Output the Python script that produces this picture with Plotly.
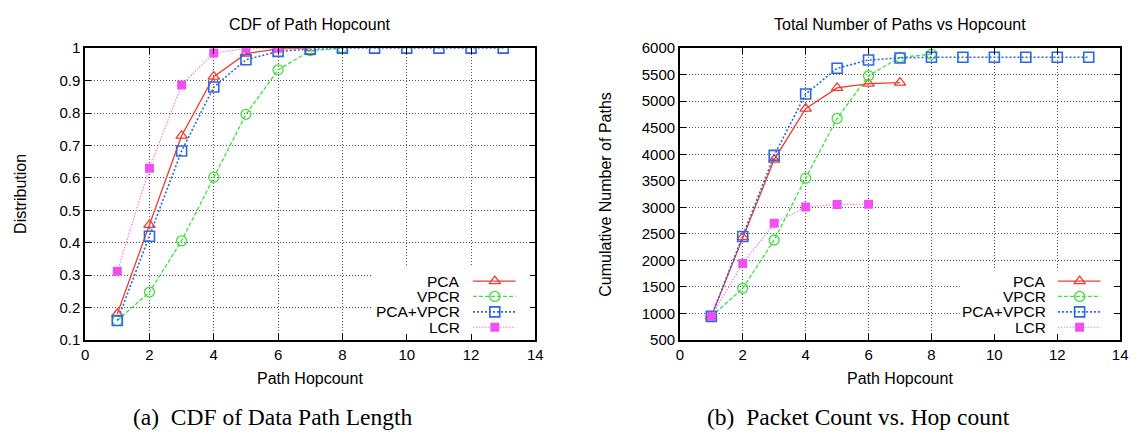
import plotly.graph_objects as go

W, H = 1145, 441

# hop counts (x positions)
hops = list(range(1, 14))

# CDF of path hopcount
cdf_pca = [0.181, 0.455, 0.73, 0.912, 0.983, 0.998, 1.0]
cdf_vpcr = [0.16, 0.248, 0.406, 0.602, 0.796, 0.933, 0.992, 1.0]
cdf_pca_vpcr = [0.16, 0.42, 0.683, 0.88, 0.964, 0.99, 0.997, 1.0, 1.0, 1.0, 1.0, 1.0, 1.0]
cdf_lcr = [0.312, 0.63, 0.886, 0.985, 0.999, 1.0]

# cumulative number of paths
cum_pca = [945, 2440, 3900, 4860, 5250, 5330, 5350]
cum_vpcr = [945, 1475, 2385, 3550, 4675, 5480, 5825, 5886]
cum_pca_vpcr = [945, 2450, 3980, 5135, 5620, 5775, 5815, 5828, 5828, 5828, 5828, 5828, 5828]
cum_lcr = [950, 1940, 2700, 3005, 3055, 3060]

series_names = ["PCA", "VPCR", "PCA+VPCR", "LCR"]

x_ticks = [0, 2, 4, 6, 8, 10, 12, 14]
cdf_ticks = [0.1, 0.2, 0.3, 0.4, 0.5, 0.6, 0.7, 0.8, 0.9, 1.0]
cdf_tick_text = ["0.1", "0.2", "0.3", "0.4", "0.5", "0.6", "0.7", "0.8", "0.9", "1"]
cum_ticks = [500, 1000, 1500, 2000, 2500, 3000, 3500, 4000, 4500, 5000, 5500, 6000]

RED = "#f23a2c"
GREEN = "#3ee03e"
BLUE = "#2a66e6"
PINK_LINE = "#f07af0"
PINK = "#f24ff2"

styles = [
    dict(line=dict(color=RED, width=1.3, dash="solid"),
         marker=dict(symbol="triangle-up-open", size=10, color=RED, line=dict(width=1.3, color=RED))),
    dict(line=dict(color=GREEN, width=1.3, dash="4px,2px"),
         marker=dict(symbol="circle-open", size=10, color=GREEN, line=dict(width=1.3, color=GREEN))),
    dict(line=dict(color=BLUE, width=1.6, dash="2px,2px"),
         marker=dict(symbol="square-open", size=10, color=BLUE, line=dict(width=1.6, color=BLUE))),
    dict(line=dict(color=PINK_LINE, width=1.2, dash="1.5px,1.5px"),
         marker=dict(symbol="square", size=9, color=PINK, line=dict(width=0, color=PINK))),
]

FONT = "Liberation Sans, Arial, Helvetica, sans-serif"
SERIF = "Liberation Serif, Times New Roman, serif"

fig = go.Figure()

cdf_data = [cdf_pca, cdf_vpcr, cdf_pca_vpcr, cdf_lcr]
cum_data = [cum_pca, cum_vpcr, cum_pca_vpcr, cum_lcr]

for name, vals, st in zip(series_names, cdf_data, styles):
    fig.add_trace(go.Scatter(x=hops[:len(vals)], y=vals, mode="lines+markers", name=name,
                             line=st["line"], marker=st["marker"], showlegend=False,
                             xaxis="x", yaxis="y"))
for name, vals, st in zip(series_names, cum_data, styles):
    fig.add_trace(go.Scatter(x=hops[:len(vals)], y=vals, mode="lines+markers", name=name,
                             line=st["line"], marker=st["marker"], showlegend=False,
                             xaxis="x2", yaxis="y2"))

# key samples (gnuplot-style: label on the left, line sample with marker on the right)
key_rows = [283, 299, 315, 331]
key_boxes = [dict(text_right=463, line0=474, line1=517, mark=496),
             dict(text_right=1055, line0=1065, line1=1108, mark=1087)]
annotations = []
for kb in key_boxes:
    for name, st, ry in zip(series_names, styles, key_rows):
        fig.add_trace(go.Scatter(x=[kb["line0"], kb["line1"]], y=[ry, ry], mode="lines",
                                 line=st["line"], showlegend=False, hoverinfo="skip",
                                 xaxis="x3", yaxis="y3"))
        fig.add_trace(go.Scatter(x=[kb["mark"]], y=[ry], mode="markers",
                                 marker=st["marker"], showlegend=False, hoverinfo="skip",
                                 xaxis="x3", yaxis="y3"))
        annotations.append(dict(x=kb["text_right"] / W, y=1 - ry / H, xref="paper", yref="paper",
                                text=name, showarrow=False, xanchor="right", yanchor="middle",
                                font=dict(family=FONT, size=15.5, color="black")))

L1, R1 = 82, 537
L2, R2 = 683, 1128
TOP, BOT = 40.7, 344.3

axis_common = dict(showline=True, linecolor="black", linewidth=1.5, mirror="ticks",
                   ticks="inside", ticklen=6, tickwidth=1.2, tickcolor="black",
                   showgrid=True, gridcolor="#505050", griddash="1px,2px", gridwidth=1,
                   zeroline=False,
                   tickfont=dict(family=FONT, size=15, color="black"))

fig.update_layout(
    width=W, height=H,
    margin=dict(l=0, r=0, t=0, b=0),
    paper_bgcolor="white", plot_bgcolor="rgba(0,0,0,0)",
    showlegend=False,
    xaxis=dict(domain=[L1 / W, R1 / W], range=[0, 14], tickvals=x_ticks, anchor="y", **axis_common),
    yaxis=dict(domain=[1 - BOT / H, 1 - TOP / H], range=[0.1, 1.0], tickvals=cdf_ticks,
               ticktext=cdf_tick_text, anchor="x", **axis_common),
    xaxis2=dict(domain=[L2 / W, R2 / W], range=[0, 14], tickvals=x_ticks, anchor="y2", **axis_common),
    yaxis2=dict(domain=[1 - BOT / H, 1 - TOP / H], range=[500, 6000], tickvals=cum_ticks,
                anchor="x2", **axis_common),
    xaxis3=dict(domain=[0, 1], range=[0, W], visible=False, anchor="y3", fixedrange=True),
    yaxis3=dict(domain=[0, 1], range=[H, 0], visible=False, anchor="x3", fixedrange=True),
)

# opaque key backgrounds hide the grid behind the keys
fig.add_shape(type="rect", xref="x", yref="y", x0=8.95, x1=14, y0=0.1, y1=0.328,
              fillcolor="white", line=dict(width=0), layer="between")
fig.add_shape(type="rect", xref="x2", yref="y2", x0=8.9, x1=14, y0=500, y1=1810,
              fillcolor="white", line=dict(width=0), layer="between")

def label(x, y, text, size=16, angle=0, family=FONT, anchor="center"):
    annotations.append(dict(x=x / W, y=1 - y / H, xref="paper", yref="paper", text=text,
                            showarrow=False, xanchor=anchor, yanchor="middle", textangle=angle,
                            font=dict(family=family, size=size, color="black")))

# plot titles
label((L1 + R1) / 2, 16, "CDF of Path Hopcount")
label((L2 + R2) / 2, 16, "Total Number of Paths vs Hopcount")
# axis titles
label((L1 + R1) / 2, 384, "Path Hopcount")
label((L2 + R2) / 2, 384, "Path Hopcount")
label(16, (TOP + BOT) / 2, "Distribution", angle=-90)
label(607, (TOP + BOT) / 2, "Cumulative Number of Paths", angle=-90)
# sub-figure captions
label(128, 424, "(a)\u00a0\u00a0CDF of Data Path Length", size=23.5, family=SERIF, anchor="left")
label(708, 424, "(b)\u00a0\u00a0Packet Count vs. Hop count", size=23.5, family=SERIF, anchor="left")

fig.update_layout(annotations=annotations)

fig.write_html("out.html")
